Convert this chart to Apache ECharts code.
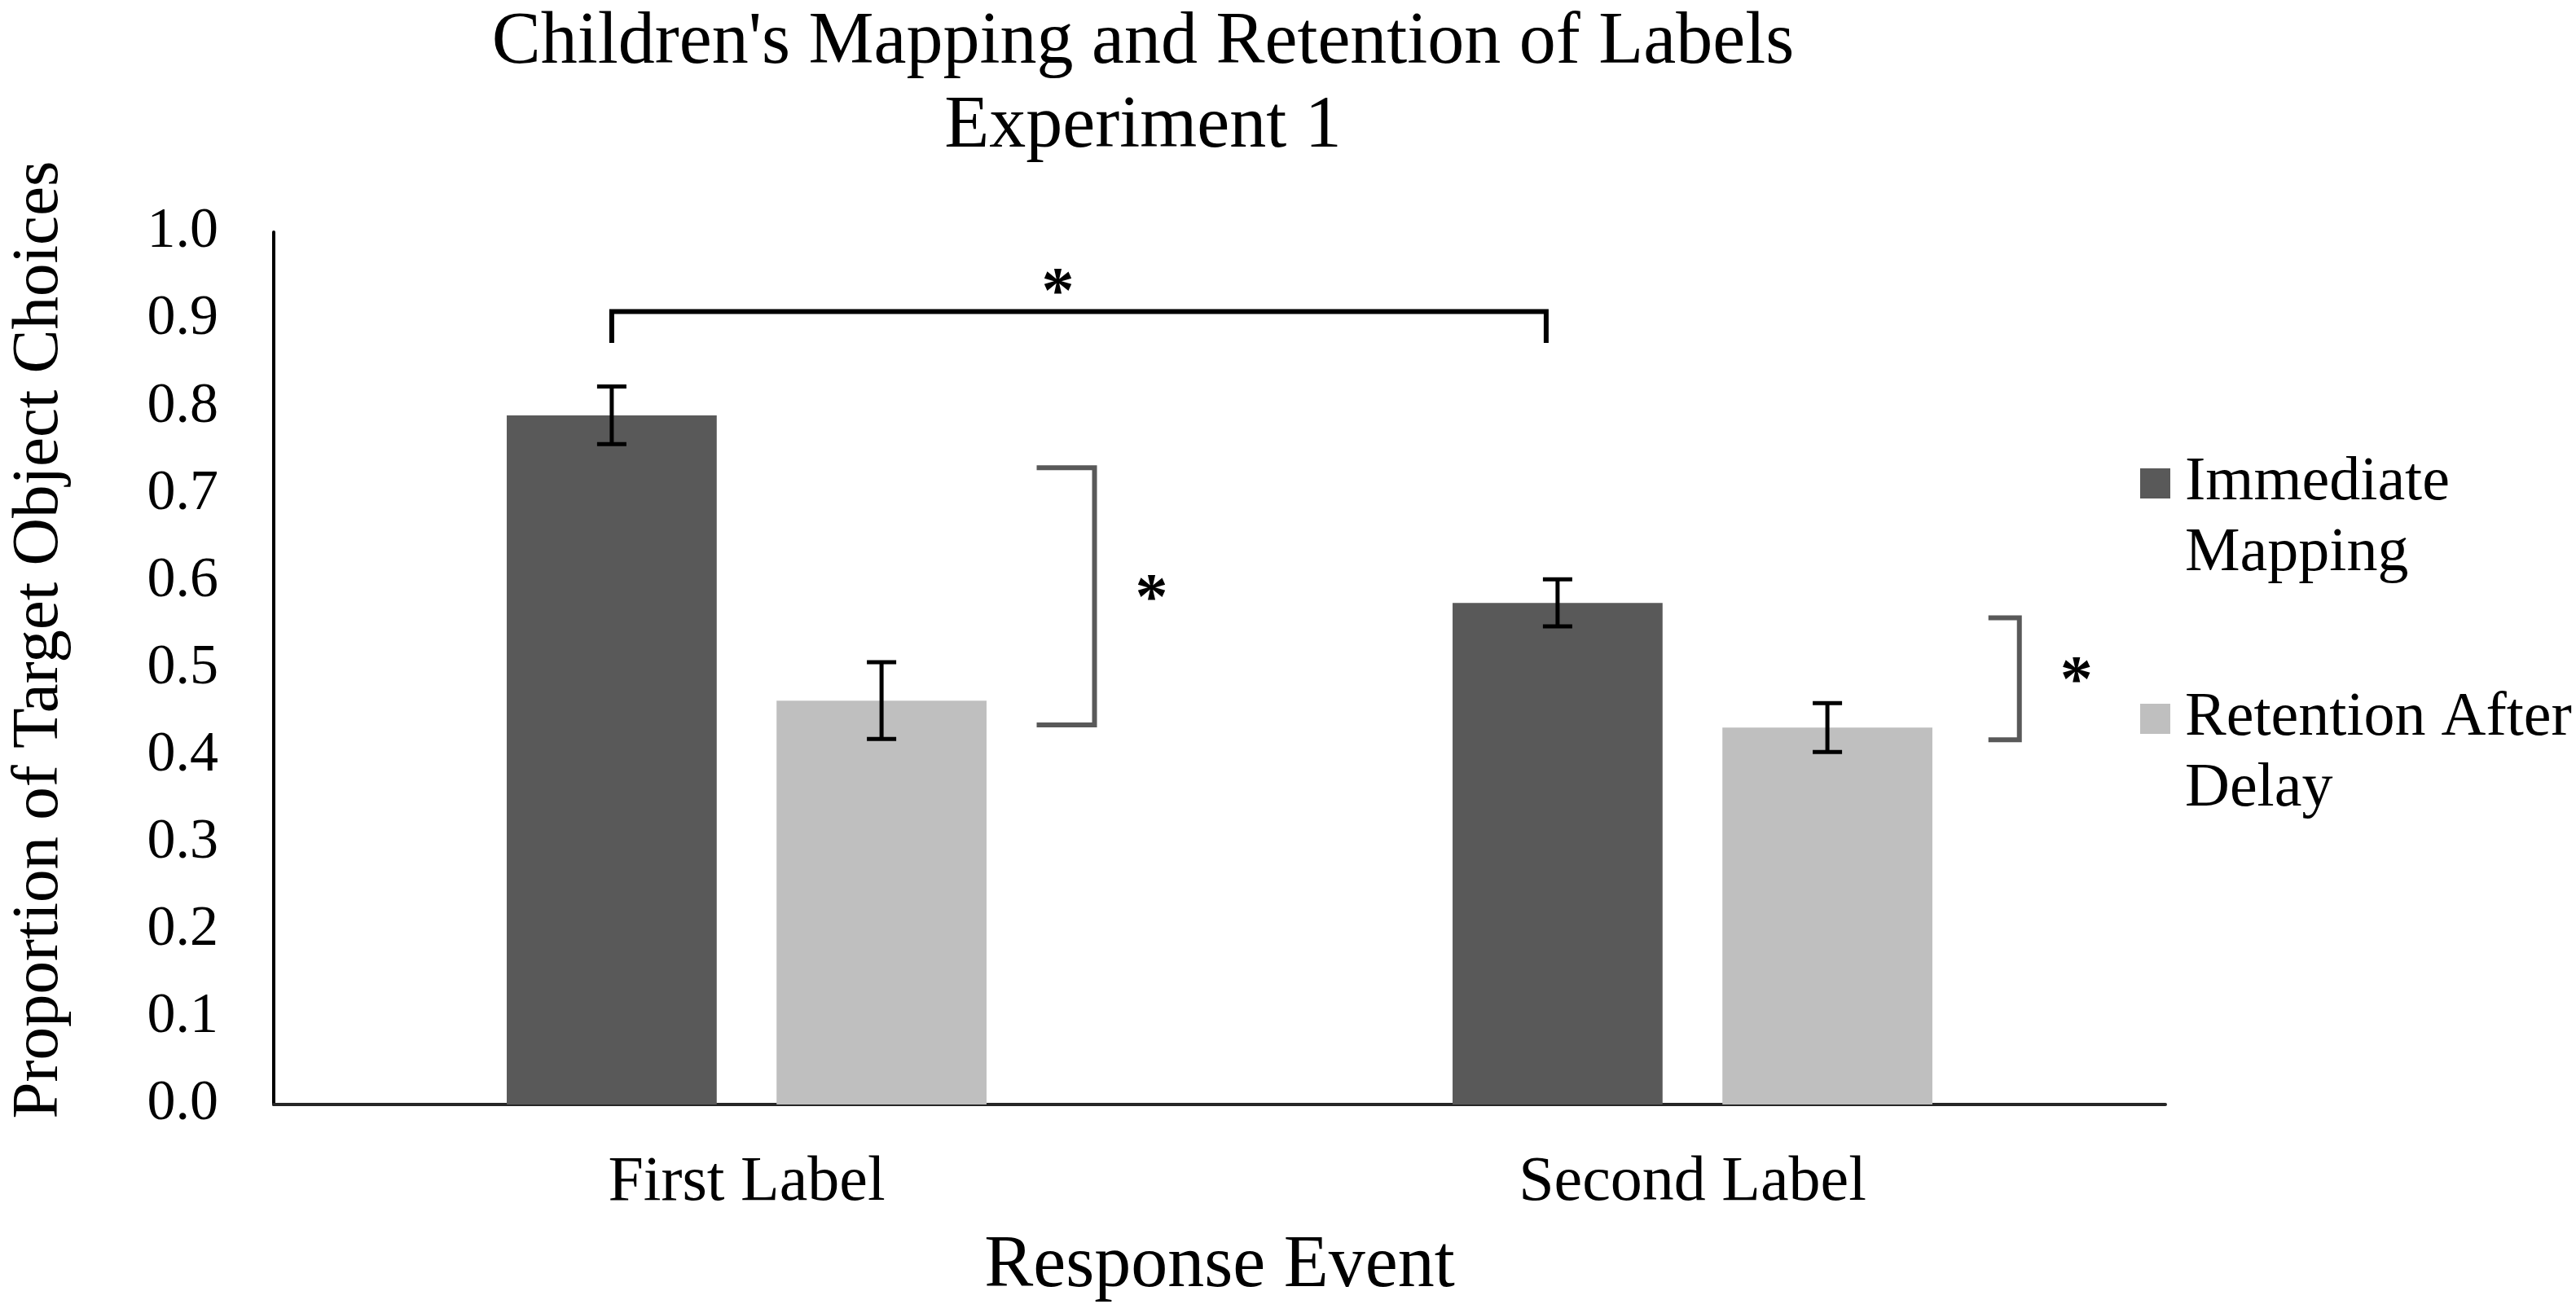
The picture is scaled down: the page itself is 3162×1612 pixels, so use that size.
<!DOCTYPE html>
<html>
<head>
<meta charset="utf-8">
<script src="https://cdn.jsdelivr.net/npm/echarts@6/dist/echarts.min.js"></script>
<style>
  html, body { margin: 0; padding: 0; background: #fff; }
  #main { width: 3162px; height: 1612px; }
</style>
</head>
<body>
<div id="main"></div>
<script>
var categories = ['First Label', 'Second Label'];
var seriesNames = ['Immediate Mapping', 'Retention After Delay'];
// leading empty line keeps the first text line level with the legend square
var legendText = ['\nImmediate\nMapping', '\nRetention After\nDelay'];
var immediate = [0.79, 0.575];
var immediateErr = [0.033, 0.027];
var retention = [0.463, 0.432];
var retentionErr = [0.044, 0.028];
// [category, bracket top, bracket bottom]
var withinSig = [[0, 0.730, 0.435], [1, 0.558, 0.418]];
// [from category, to category, line y, tick end y]
var betweenSig = [[0, 1, 0.909, 0.873]];

var FONT = 'Liberation Serif';
var BAR_W = 0.222, BAR_GAP = 0.285;

// bar centre offset from the category centre, as a fraction of the band
function barOffset(band, idx) {
  var d = band * BAR_W * (1 + BAR_GAP) / 2;
  return idx === 0 ? -d : d;
}

function errorSeries(idx, vals, errs) {
  return {
    name: 'err' + idx,
    type: 'custom',
    z: 5,
    data: vals.map(function (v, i) { return [i, v, errs[i]]; }),
    renderItem: function (params, api) {
      var cat = api.value(0), v = api.value(1), e = api.value(2);
      var band = api.size([1, 0])[0];
      var x = api.coord([cat, v])[0] + barOffset(band, idx);
      var yt = api.coord([cat, v + e])[1];
      var yb = api.coord([cat, v - e])[1];
      var st = { stroke: '#000', lineWidth: 5 };
      return {
        type: 'group',
        children: [
          { type: 'line', shape: { x1: x, y1: yt, x2: x, y2: yb }, style: st },
          { type: 'line', shape: { x1: x - 18, y1: yt, x2: x + 18, y2: yt }, style: st },
          { type: 'line', shape: { x1: x - 18, y1: yb, x2: x + 18, y2: yb }, style: st }
        ]
      };
    }
  };
}

var STAR_FONT = 'bold 80px ' + FONT;

var myChart = echarts.init(document.getElementById('main'));
myChart.setOption({
  animation: false,
  backgroundColor: '#fff',
  title: {
    text: "Children's Mapping and Retention of Labels\nExperiment 1",
    left: 1403,
    top: 2,
    padding: 0,
    textAlign: 'center',
    textStyle: { fontFamily: FONT, fontSize: 90, fontWeight: 'normal', color: '#000', lineHeight: 103 }
  },
  legend: {
    data: seriesNames,
    orient: 'vertical',
    left: 2622,
    top: 458,
    itemWidth: 37,
    itemHeight: 37,
    itemGap: 28,
    icon: 'rect',
    formatter: function (name) { return legendText[seriesNames.indexOf(name)]; },
    textStyle: { fontFamily: FONT, fontSize: 76, color: '#000', lineHeight: 87, padding: [0, 0, 0, 13] }
  },
  grid: { left: 327, right: 504, top: 285, bottom: 256 },
  xAxis: {
    type: 'category',
    data: categories,
    name: 'Response Event',
    nameLocation: 'middle',
    nameGap: 154,
    nameTextStyle: { fontFamily: FONT, fontSize: 90, color: '#000' },
    axisLine: { lineStyle: { color: '#262626', width: 4 } },
    axisTick: { show: false },
    axisLabel: { fontFamily: FONT, fontSize: 78, color: '#000', margin: 58 }
  },
  yAxis: {
    type: 'value',
    min: 0,
    max: 1,
    interval: 0.1,
    name: 'Proportion of Target Object Choices',
    nameLocation: 'middle',
    nameRotate: 90,
    nameGap: 247,
    nameTextStyle: { fontFamily: FONT, fontSize: 81, color: '#000', padding: [0, 0, 0, 70] },
    axisLine: { show: true, lineStyle: { color: '#000', width: 4 } },
    axisTick: { show: false },
    splitLine: { show: false },
    axisLabel: {
      fontFamily: FONT, fontSize: 70, color: '#000', margin: 68,
      formatter: function (v) { return v.toFixed(1); }
    }
  },
  series: [
    {
      name: seriesNames[0], type: 'bar', data: immediate,
      barWidth: (BAR_W * 100) + '%', barGap: (BAR_GAP * 100) + '%',
      itemStyle: { color: '#595959' }
    },
    {
      name: seriesNames[1], type: 'bar', data: retention,
      barWidth: (BAR_W * 100) + '%', barGap: (BAR_GAP * 100) + '%',
      itemStyle: { color: '#bfbfbf' }
    },
    errorSeries(0, immediate, immediateErr),
    errorSeries(1, retention, retentionErr),
    {
      name: 'sigWithin',
      type: 'custom',
      z: 6,
      data: withinSig,
      renderItem: function (params, api) {
        var cat = api.value(0), top = api.value(1), bot = api.value(2);
        var band = api.size([1, 0])[0];
        var cx = api.coord([cat, top])[0];
        var arm = params.dataIndex === 0 ? 71 : 38;
        var xv = cx + band * (params.dataIndex === 0 ? 0.3678 : 0.3456);
        var yt = api.coord([cat, top])[1];
        var yb = api.coord([cat, bot])[1];
        return {
          type: 'group',
          children: [
            {
              type: 'polyline',
              shape: { points: [[xv - arm, yt], [xv, yt], [xv, yb], [xv - arm, yb]] },
              style: { stroke: '#595959', lineWidth: 6, fill: null }
            },
            {
              type: 'text',
              style: {
                text: '*', x: xv + 70, y: (yt + yb) / 2 + 6,
                font: STAR_FONT, fill: '#000', align: 'center', verticalAlign: 'middle'
              }
            }
          ]
        };
      }
    },
    {
      name: 'sigBetween',
      type: 'custom',
      z: 6,
      data: betweenSig,
      renderItem: function (params, api) {
        var band = api.size([1, 0])[0];
        var x1 = api.coord([api.value(0), 0])[0] + barOffset(band, 0);
        var x2 = api.coord([api.value(1), 0])[0] + barOffset(band, 0) - 14;
        var yl = api.coord([0, api.value(2)])[1];
        var yk = api.coord([0, api.value(3)])[1];
        return {
          type: 'group',
          children: [
            {
              type: 'polyline',
              shape: { points: [[x1, yk], [x1, yl], [x2, yl], [x2, yk]] },
              style: { stroke: '#000', lineWidth: 6, fill: null }
            },
            {
              type: 'text',
              style: {
                text: '*', x: (x1 + x2) / 2 - 26, y: yl - 20,
                font: STAR_FONT, fill: '#000', align: 'center', verticalAlign: 'middle'
              }
            }
          ]
        };
      }
    }
  ]
});
</script>
</body>
</html>
